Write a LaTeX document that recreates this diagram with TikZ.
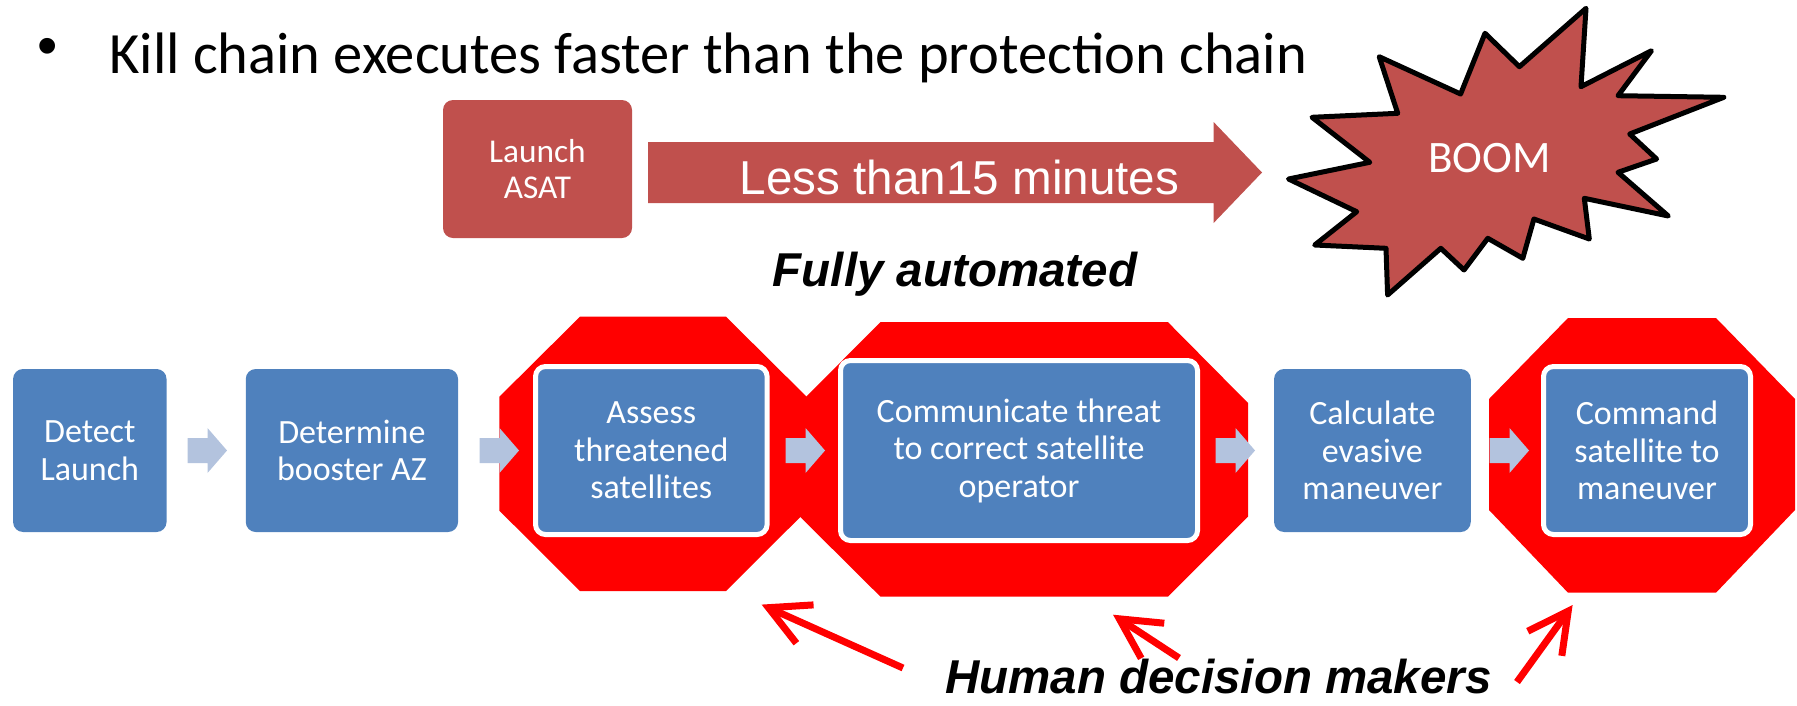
\documentclass[tikz,border=0pt]{standalone}
\usepackage{fontspec}
\setmainfont{Carlito}
\newfontfamily\arialf{Liberation Sans}
\usetikzlibrary{arrows.meta}
\definecolor{blu}{HTML}{4F81BD}
\definecolor{brick}{HTML}{C0504D}
\definecolor{lblu}{HTML}{B3C3DE}
\definecolor{pured}{HTML}{FF0000}
\begin{document}
\begin{tikzpicture}[x=1pt, y=-1pt,
  box/.style={fill=blu, rounded corners=10pt, inner sep=0pt, text=white, align=center,
    font=\fontsize{34}{37.5}\selectfont},
  wbox/.style={box, draw=white, line width=5pt},
  oct/.style={fill=pured},
  redarr/.style={draw=pured, line width=7pt, -{Straight Barb[length=40pt,width=42pt]}},
  larr/.pic={\fill[lblu] (0,-12.5) -- (20,-12.5) -- (20,-22.5) -- (39.5,0) -- (20,22.5) -- (20,12.5) -- (0,12.5) -- cycle;}
]
\useasboundingbox (0,0) rectangle (1797,705);

% title
\node[inner sep=0pt, font=\arialf\fontsize{58}{60}\selectfont] (bullet) at (48,52) {•};
\node[anchor=base west, inner sep=0pt, font=\fontsize{58.5}{60}\selectfont] (title) at (109,73)
  {Kill chain executes faster than the protection chain};

% top row
\node[fill=brick, rounded corners=10pt, inner sep=0pt, minimum width=189pt, minimum height=138pt,
  text=white, align=center, font=\fontsize{33.3}{36.7}\selectfont] (asat) at (537.5,169) {Launch\\ASAT};
\fill[brick] (648,142) -- (1213.6,142) -- (1213.6,122) -- (1262,172.5) -- (1213.6,223)
  -- (1213.6,203) -- (648,203) -- cycle;
\node[anchor=base, text=white, font=\arialf\fontsize{47.6}{50}\selectfont] (less) at (959.5,194)
  {Less than15 minutes};

\filldraw[fill=brick, draw=black, line width=5pt, line join=round]
  (1586,8.3) -- (1581,86.7) -- (1651.5,50.7) -- (1618,95.7) -- (1723.8,97.3) -- (1629.7,134)
  -- (1656.6,159) -- (1618,172.3) -- (1668.3,216) -- (1584.3,198.3) -- (1589.3,239)
  -- (1533.9,219) -- (1522.8,258.3) -- (1487.8,238.3) -- (1464,270) -- (1440.8,248.3)
  -- (1387.6,295) -- (1386,248.3) -- (1314.7,245) -- (1356.7,211.7) -- (1288.5,179)
  -- (1369.8,162.3) -- (1312,117.3) -- (1397.7,113.3) -- (1379.2,56.7) -- (1460.6,94)
  -- (1485,33.3) -- (1519.4,66.7) -- cycle;
\node[anchor=base, text=white, font=\fontsize{45}{50}\selectfont] (boom) at (1489.5,172.3) {BOOM};

\node[anchor=base, font=\arialf\bfseries\itshape\fontsize{47.5}{50}\selectfont] (fully) at (955,286)
  {Fully automated};

% octagons
\fill[oct] (499.4,396.7) -- (580,316.7) -- (726,316.7) -- (806.6,396.7) -- (806.6,510.7)
  -- (726,591) -- (580,591) -- (499.4,510.7) -- cycle;
\fill[oct] (800,403) -- (880.5,322) -- (1167.8,322) -- (1248,403) -- (1248,516.7)
  -- (1167.8,596.7) -- (880.5,596.7) -- (800,516.7) -- cycle;
\fill[oct] (1489,399) -- (1568,318) -- (1716,318) -- (1795,399) -- (1795,510)
  -- (1716,592.7) -- (1568,592.7) -- (1489,510) -- cycle;

% process boxes
\node[box, minimum width=153.5pt, minimum height=163pt] (detect) at (89.8,450.5) {Detect\\Launch};
\node[box, minimum width=212.3pt, minimum height=163pt] (determine) at (351.9,450.5) {Determine\\booster AZ};
\node[wbox, minimum width=231.6pt, minimum height=168pt] (assess) at (651.3,450.5) {Assess\\threatened\\satellites};
\node[wbox, minimum width=357pt, minimum height=180pt] (comm) at (1019,450.5) {Communicate threat\\to correct satellite\\operator};
\node[box, minimum width=196.7pt, minimum height=163pt] (calc) at (1372.4,450.5) {Calculate\\evasive\\maneuver};
\node[wbox, minimum width=207pt, minimum height=168pt] (command) at (1647,450.5) {Command\\satellite to\\maneuver};

% block arrows
\pic at (187.5,450.5) {larr};
\pic at (479.5,450.5) {larr};
\pic at (785.5,450.5) {larr};
\pic at (1215.5,450.5) {larr};
\pic at (1489.5,450.5) {larr};

% human decision makers
\node[anchor=base, inner sep=0pt, font=\arialf\bfseries\itshape\fontsize{47.5}{50}\selectfont] (human) at (1218.5,693)
  {Human decision makers};
\coordinate (ta) at (903,668);   \coordinate (pa) at (761.6,604.6);
\coordinate (tb) at (1179,658);  \coordinate (pb) at (1113,614.7);
\coordinate (tc) at (1517,682);    \coordinate (pc) at (1572.6,605);
\draw[redarr] (ta) -- (pa);
\draw[redarr] (tb) -- (pb);
\draw[redarr] (tc) -- (pc);
\end{tikzpicture}
\end{document}
